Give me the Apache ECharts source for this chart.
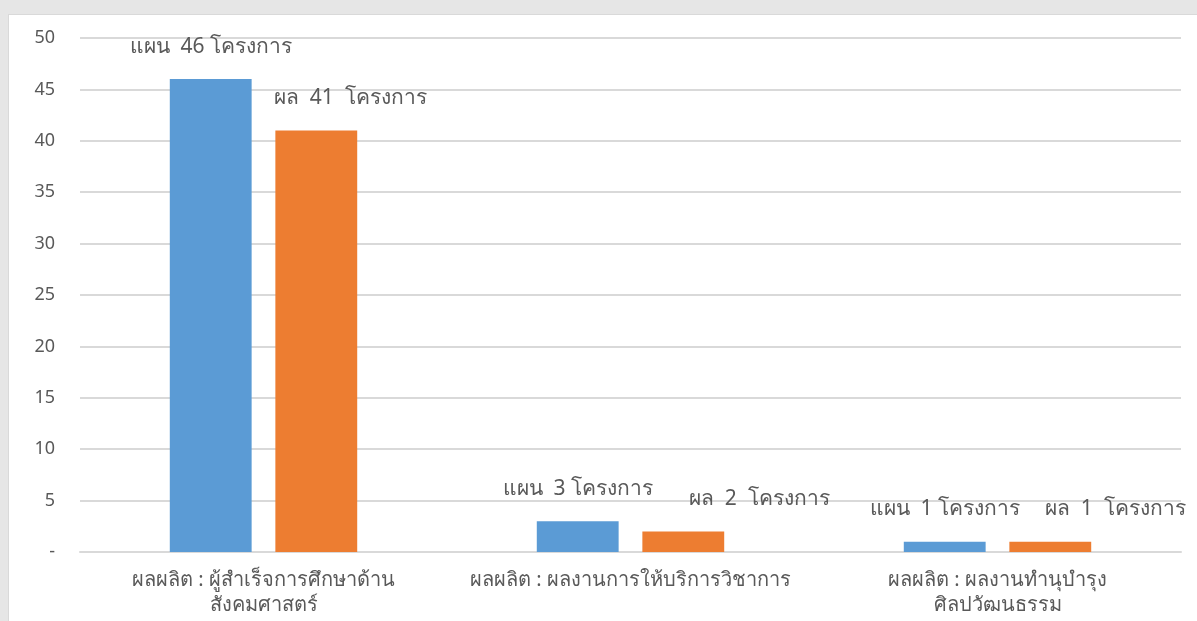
<!DOCTYPE html>
<html>
<head>
<meta charset="utf-8">
<script src="https://cdn.jsdelivr.net/npm/echarts@6/dist/echarts.min.js"></script>
<style>
  html, body { margin: 0; padding: 0; background: #e6e6e6; }
  #panel { position: absolute; left: 8px; top: 14px; width: 1189px; height: 607px; background: #fff; border-left: 1px solid #d9d9d9; border-top: 1px solid #d9d9d9; box-sizing: border-box; }
  #main { position: absolute; left: 0; top: 0; width: 1197px; height: 621px; }
</style>
</head>
<body>
<div id="panel"></div>
<div id="main"></div>
<script>
const categories = [
  'ผลผลิต : ผู้สำเร็จการศึกษาด้าน\nสังคมศาสตร์',
  'ผลผลิต : ผลงานการให้บริการวิชาการ',
  'ผลผลิต : ผลงานทำนุบำรุง\nศิลปวัฒนธรรม'
]
const planValues = [46, 3, 1]
const resultValues = [41, 2, 1]
const yTicks = { min: 0, max: 50, interval: 5 }

const textColor = '#595959'
const fontFamily = 'Tahoma, "Noto Sans", "DejaVu Sans", sans-serif'

let myChart = echarts.init(document.getElementById('main'))
myChart.setOption({
  color: ['#5B9BD5', '#ED7D31'],
  animation: false,
  grid: {
    left: 80,
    right: 16,
    top: 38,
    bottom: 69
  },
  xAxis: {
    type: 'category',
    data: categories,
    axisLine: { lineStyle: { color: '#d9d9d9', width: 2 } },
    axisTick: { show: false },
    axisLabel: {
      interval: 0,
      color: textColor,
      fontSize: 20,
      fontFamily: fontFamily,
      lineHeight: 25,
      margin: 16
    }
  },
  yAxis: {
    type: 'value',
    min: yTicks.min,
    max: yTicks.max,
    interval: yTicks.interval,
    axisLine: { show: false },
    axisTick: { show: false },
    splitLine: { lineStyle: { color: '#d9d9d9', width: 2 } },
    axisLabel: {
      color: textColor,
      fontSize: 18,
      fontFamily: fontFamily,
      margin: 25,
      formatter: function (value) {
        return value === 0 ? '-' : String(value)
      }
    }
  },
  series: [
    {
      name: 'แผน',
      type: 'bar',
      barWidth: '22.3%',
      barGap: '29%',
      data: planValues,
      label: {
        show: true,
        position: 'top',
        distance: 22,
        color: textColor,
        fontSize: 21,
        fontFamily: fontFamily,
        formatter: function (p) {
          return 'แผน  ' + p.value + ' โครงการ'
        }
      }
    },
    {
      name: 'ผล',
      type: 'bar',
      barWidth: '22.3%',
      data: resultValues.map(function (v, i) {
        // labels sit to the right of the orange bars, as dragged in the original
        const shift = [34, 76, 65][i]
        return { value: v, label: { offset: [shift, 0] } }
      }),
      label: {
        show: true,
        position: 'top',
        distance: 22,
        color: textColor,
        fontSize: 21,
        fontFamily: fontFamily,
        formatter: function (p) {
          return 'ผล  ' + p.value + '  โครงการ'
        }
      }
    }
  ]
})
</script>
</body>
</html>
